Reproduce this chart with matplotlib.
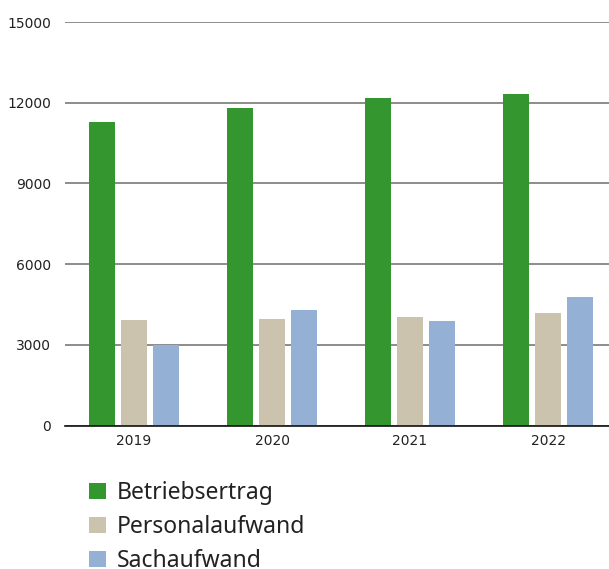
import matplotlib
matplotlib.use("Agg")
import matplotlib.pyplot as plt
import numpy as np

years = ["2019", "2020", "2021", "2022"]
series_names = ["Betriebsertrag", "Personalaufwand", "Sachaufwand"]
betriebsertrag = [11280, 11800, 12170, 12320]
personalaufwand = [3920, 3960, 4030, 4180]
sachaufwand = [2980, 4290, 3880, 4770]
yticks = [0, 3000, 6000, 9000, 12000, 15000]
colors = ["#33962e", "#cbc3ae", "#94b0d4"]

plt.rcParams['font.family'] = ['Noto Sans', 'DejaVu Sans']

W, H = 609, 569
fig = plt.figure(figsize=(W / 100, H / 100), dpi=100)
left, right = 65, 609
bottom, top = 425.5, 22
ax = fig.add_axes([left / W, 1 - bottom / H, (right - left) / W, (bottom - top) / H])

x = np.arange(len(years))
width = 26 / 138
offset = 32 / 138
for i, (vals, name, c) in enumerate(zip([betriebsertrag, personalaufwand, sachaufwand], series_names, colors)):
    ax.bar(x + (i - 1) * offset, vals, width=width, color=c, label=name, zorder=3)

ax.set_ylim(0, 15000)
ax.set_xlim(-0.5, -0.5 + (right - left) / 138)
ax.set_yticks(yticks)
ax.set_yticklabels([str(v) for v in yticks], fontsize=10, color="#222222", family="DejaVu Sans")
ax.set_xticks(x)
ax.set_xticklabels(years, fontsize=10, color="#222222", family="DejaVu Sans")
ax.tick_params(axis='both', length=0)
ax.tick_params(axis='y', pad=10)
ax.tick_params(axis='x', pad=6)
ax.yaxis.grid(True, color="#6e6e6e", linewidth=1.1, zorder=0)
for s in ["left", "right", "top"]:
    ax.spines[s].set_visible(False)
ax.spines["bottom"].set_color("#111111")
ax.spines["bottom"].set_linewidth(1.2)
ax.spines["bottom"].set_zorder(4)

leg = fig.legend(loc="upper left", bbox_to_anchor=(80 / W, 1 - 472 / H), frameon=False,
                 fontsize=16.5, handlelength=0.73, handleheight=0.73, labelspacing=0.43,
                 handletextpad=0.47, borderaxespad=0)
for t in leg.get_texts():
    t.set_color("#222222")

fig.savefig("out.png", dpi=100)
